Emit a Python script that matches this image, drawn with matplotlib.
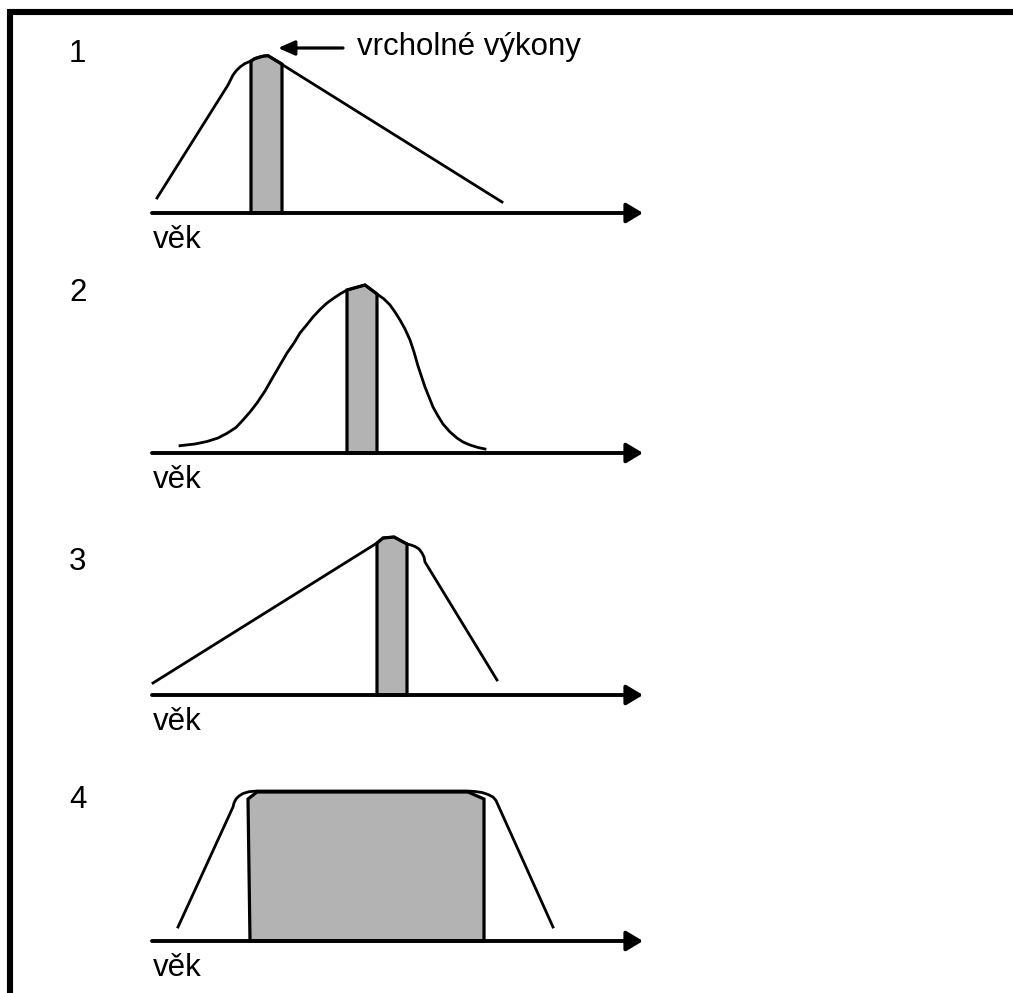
import numpy as np
from matplotlib import pyplot as plt

plt.rcParams['font.family'] = ['Liberation Sans', 'DejaVu Sans']

# panel labels and captions
panel_labels = ["1", "2", "3", "4"]
axis_label = "věk"
peak_label = "vrcholné výkony"

# performance curves (x = age position, y = performance height above the age axis)
curve1_x = [157, 228, 229.5, 231, 233, 236, 240, 245, 251, 255, 260, 264, 268, 502]
curve1_y = [15, 128, 131, 134, 138, 142, 146, 149.5, 152, 154.5, 156, 157, 157.3, 11]
bar1_x = [251, 251, 255, 260, 264, 268, 282, 282]
bar1_y = [0, 152, 154.5, 156, 157, 157.3, 149, 0]

curve2_x = [180, 195, 207, 218, 227, 236, 243, 250, 257, 265, 273, 280, 287, 294, 300,
            307, 313, 320, 327, 334, 340, 347, 365, 377, 384, 390, 395, 400, 405, 410,
            414, 418, 422, 425, 429, 433, 438, 443, 450, 457, 463, 470, 478, 485]
curve2_y = [7.3, 9, 11.5, 15, 19.7, 25.5, 33, 41, 50, 62, 76, 88, 100, 110, 120,
            128.5, 136, 143.5, 150, 155, 159, 163, 168, 159, 154, 148, 141, 133, 124, 113,
            101, 87, 75, 66, 56, 46, 37, 29, 21, 15, 11, 8, 5.5, 4]
bar2_x = [347, 347, 365, 377, 377]
bar2_y = [0, 163, 168, 159, 0]

curve3_x = [153, 377, 383, 394, 407, 411, 415, 419, 422, 424, 425, 497]
curve3_y = [12, 152, 157, 158, 151, 150, 148.5, 146, 142, 138, 133, 15]
bar3_x = [377, 377, 383, 394, 407, 407]
bar3_y = [0, 152, 157, 158, 151, 0]

curve4_x = [178, 233, 234, 236, 239, 243, 249, 257, 467, 475, 482, 488, 493, 496, 498, 553]
curve4_y = [14, 134, 138, 142, 145, 147.5, 149.3, 150, 150, 149.5, 148.5, 146.5, 144, 140.5, 136, 14]
bar4_x = [250, 248, 257, 468, 484, 484]
bar4_y = [0, 142, 149, 149, 142, 0]

curves = [(curve1_x, curve1_y), (curve2_x, curve2_y), (curve3_x, curve3_y), (curve4_x, curve4_y)]
bars = [(bar1_x, bar1_y), (bar2_x, bar2_y), (bar3_x, bar3_y), (bar4_x, bar4_y)]

# layout (pixels)
W, H = 1013, 993
baselines = [213, 453, 695, 941]
label_heights = [151, 152, 125, 133]
above, below = 200, 45
fs = 22.5

fig = plt.figure(figsize=(W / 100, H / 100), dpi=100)

#---------------------frame------------------------
frame = fig.add_axes([0, 0, 1, 1])
frame.set_xlim(0, W)
frame.set_ylim(H, 0)
frame.axis('off')
frame.plot([10, 10, W], [H, 12, 12], color='black', lw=4.4,
           solid_joinstyle='miter', solid_capstyle='butt')

#---------------------panels------------------------
for i in range(4):
    b = baselines[i]
    ax = fig.add_axes([0, (H - b - below) / H, 1, (above + below) / H])
    ax.set_xlim(0, W)
    ax.set_ylim(-below, above)
    ax.axis('off')
    ax.patch.set_alpha(0)

    bx, by = bars[i]
    ax.fill(bx, by, facecolor='#b3b3b3', edgecolor='black', lw=2.3, clip_on=False)
    cx, cy = curves[i]
    ax.plot(cx, cy, color='black', lw=2.0, solid_joinstyle='round', clip_on=False)

    # age axis with arrow
    ax.annotate("", xy=(643, 0), xytext=(152, 0),
                arrowprops=dict(arrowstyle='-|>,head_length=0.5,head_width=0.3',
                                lw=2.8, color='black', shrinkA=0, shrinkB=0,
                                mutation_scale=20))
    ax.text(153, -35, axis_label, fontsize=fs, ha='left', va='baseline')
    ax.text(69, label_heights[i], panel_labels[i], fontsize=fs, ha='left', va='baseline')

    if i == 0:
        ax.annotate("", xy=(278, 165), xytext=(343, 165),
                    arrowprops=dict(arrowstyle='-|>,head_length=0.5,head_width=0.22',
                                    lw=2.3, color='black', shrinkA=0, shrinkB=0,
                                    mutation_scale=20))
        ax.text(357, 158, peak_label, fontsize=fs, ha='left', va='baseline')

fig.savefig("out.png", dpi=100)
